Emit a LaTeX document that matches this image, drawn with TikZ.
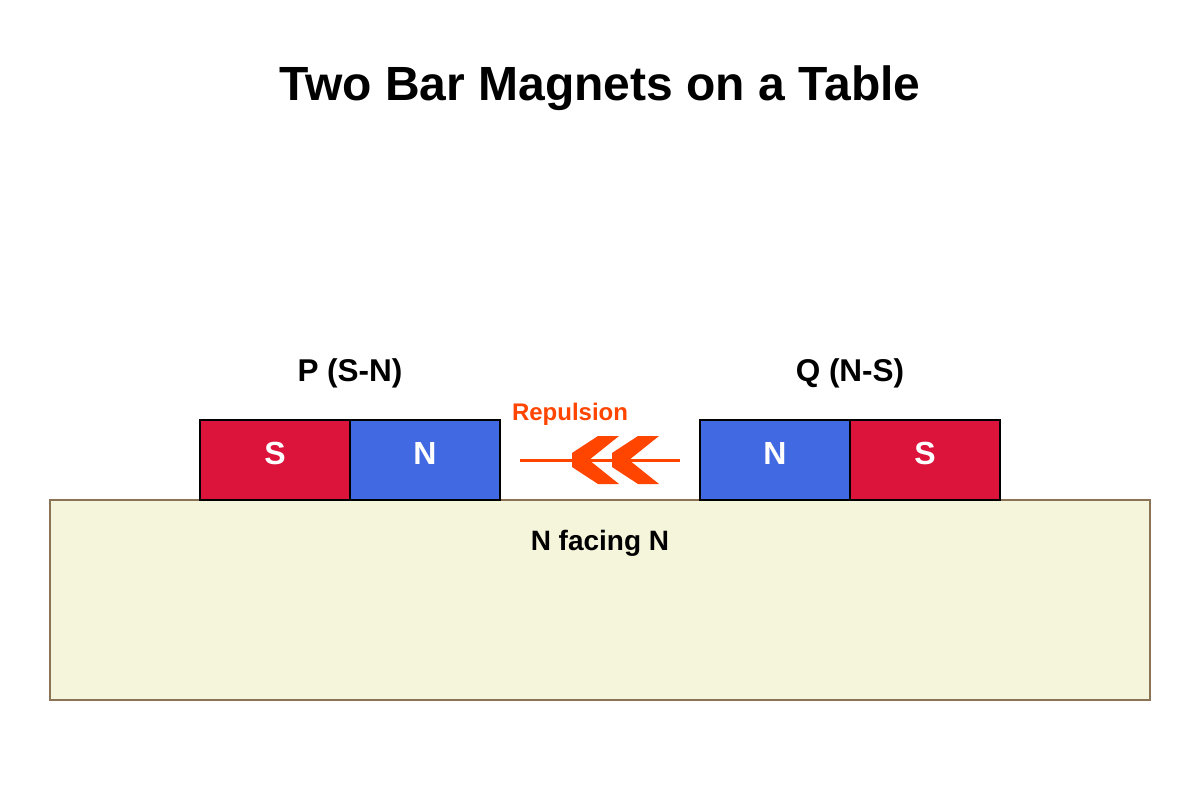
\documentclass[tikz,border=0pt]{standalone}
\usepackage{fontspec}
\setmainfont{Liberation Sans}
\definecolor{magred}{HTML}{DC143C}
\definecolor{magblue}{HTML}{4169E1}
\definecolor{tablefill}{HTML}{F5F5DC}
\definecolor{tableedge}{HTML}{8B7355}
\definecolor{repcol}{HTML}{FF4500}
\tikzset{
  pole/.style={draw=black, line width=2pt, minimum width=150pt, minimum height=80pt, inner sep=0pt, outer sep=0pt, anchor=north west},
  poletxt/.style={text=white, font=\fontsize{32}{38}\selectfont\bfseries, anchor=base, inner sep=0pt},
  lbl/.style={font=\fontsize{31.5}{36}\selectfont\bfseries, anchor=base, inner sep=0pt},
}
\begin{document}
\begin{tikzpicture}[x=1pt,y=-1pt]
\useasboundingbox (0,0) rectangle (1200,800);
\fill[white] (0,0) rectangle (1200,800);
% title
\node[font=\fontsize{48}{56}\selectfont\bfseries, anchor=base, inner sep=0pt] (title) at (600,100) {Two Bar Magnets on a Table};
% table
\draw[fill=tablefill, draw=tableedge, line width=2pt] (50,500) rectangle (1150,700);
\node (table) at (600,600) {};
% magnets
\node[pole, fill=magred] (ps) at (200,420) {};
\node[pole, fill=magblue] (pn) at (350,420) {};
\node[pole, fill=magblue] (qn) at (700,420) {};
\node[pole, fill=magred] (qs) at (850,420) {};
\node[poletxt] at (275,464) {S};
\node[poletxt] at (425,464) {N};
\node[poletxt] at (775,464) {N};
\node[poletxt] at (925,464) {S};
% labels
\node[lbl] (plabel) at (350,381) {P (S-N)};
\node[lbl] (qlabel) at (850,381) {Q (N-S)};
\node[font=\fontsize{24}{28}\selectfont\bfseries, text=repcol, anchor=base, inner sep=0pt] (rep) at (570,420) {Repulsion};
\node[font=\fontsize{28}{32}\selectfont\bfseries, anchor=base, inner sep=0pt] (facing) at (600,550) {N facing N};
% arrow
\coordinate (a1) at (520,460);
\coordinate (a2) at (680,460);
\draw[repcol, line width=3pt] (a1) -- (a2);
\foreach \dx in {0,40}{
  \fill[repcol, shift={(\dx,0)}] (572,453) -- (598,436) -- (619,436) -- (589,460) -- (619,484) -- (598,484) -- (572,467) -- cycle;
}
\end{tikzpicture}
\end{document}
